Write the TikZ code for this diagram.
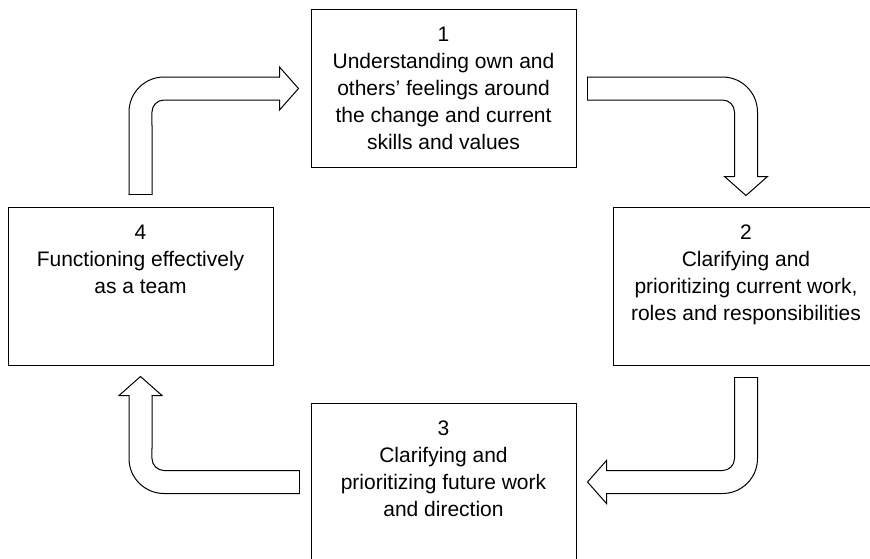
\documentclass[tikz,border=0pt]{standalone}
\usepackage{fontspec}
\setmainfont{Liberation Sans}
\usetikzlibrary{calc,positioning}

% hollow bent arrow: tail, bend, tip
\newcommand{\bentarrow}[3]{%
  \coordinate (hb) at ($(#3)!19pt!(#2)$);
  \draw[rounded corners=35pt] ($(#1)!11.5pt!90:(#2)$) -- ($(#2)!16.26pt!135:(#3)$) -- ($(hb)!11.5pt!90:(#3)$);
  \draw ($(hb)!11.5pt!90:(#3)$) -- ($(hb)!21.5pt!90:(#3)$) -- (#3) -- ($(hb)!21.5pt!-90:(#3)$) -- ($(hb)!11.5pt!-90:(#3)$);
  \draw[rounded corners=12pt] ($(hb)!11.5pt!-90:(#3)$) -- ($(#2)!16.26pt!-45:(#3)$) -- ($(#1)!11.5pt!-90:(#2)$);
  \draw ($(#1)!11.5pt!-90:(#2)$) -- ($(#1)!11.5pt!90:(#2)$);
}

\begin{document}
\begin{tikzpicture}[
    x=1pt, y=1pt, line width=1pt, line cap=round,
    stage/.style={draw, minimum width=265pt, minimum height=158pt, inner sep=0pt},
    caption/.style={inner sep=0pt, outer sep=0pt, align=center, font=\fontsize{21pt}{27pt}\selectfont}
  ]
    \useasboundingbox (0,0) rectangle (870,-558);
    \node[stage] (s1) at (443.5,-88.5) {};
    \node[stage, minimum width=266pt] (s2) at (746,-286) {};
    \node[stage] (s3) at (443.5,-482) {};
    \node[stage] (s4) at (140.5,-286) {};

    \node[caption, below=18.5pt of s1.north] (l1) {1\\Understanding own and\\others’ feelings around\\the change and current\\skills and values};
    \node[caption, below=18.5pt of s2.north] (l2) {2\\Clarifying and\\prioritizing current work,\\roles and responsibilities};
    \node[caption, below=18.5pt of s3.north] (l3) {3\\Clarifying and\\prioritizing future work\\and direction};
    \node[caption, below=18.5pt of s4.north] (l4) {4\\Functioning effectively\\as a team};

    % 4 -> 1
    \coordinate (t1) at ([yshift=12pt]s4.north);
    \coordinate (b1) at (s4.north |- s1.west);
    \coordinate (p1) at ([xshift=-12pt]s1.west);
    \bentarrow{t1}{b1}{p1}
    % 1 -> 2
    \coordinate (t2) at ([xshift=11pt]s1.east);
    \coordinate (b2) at (s2.north |- s1.east);
    \coordinate (p2) at ([yshift=11pt]s2.north);
    \bentarrow{t2}{b2}{p2}
    % 2 -> 3
    \coordinate (t3) at ([yshift=-12pt]s2.south);
    \coordinate (b3) at (s2.south |- s3.east);
    \coordinate (p3) at ([xshift=11pt]s3.east);
    \bentarrow{t3}{b3}{p3}
    % 3 -> 4
    \coordinate (t4) at ([xshift=-11pt]s3.west);
    \coordinate (b4) at (s4.south |- s3.west);
    \coordinate (p4) at ([yshift=-11pt]s4.south);
    \bentarrow{t4}{b4}{p4}
  \end{tikzpicture}
\end{document}
